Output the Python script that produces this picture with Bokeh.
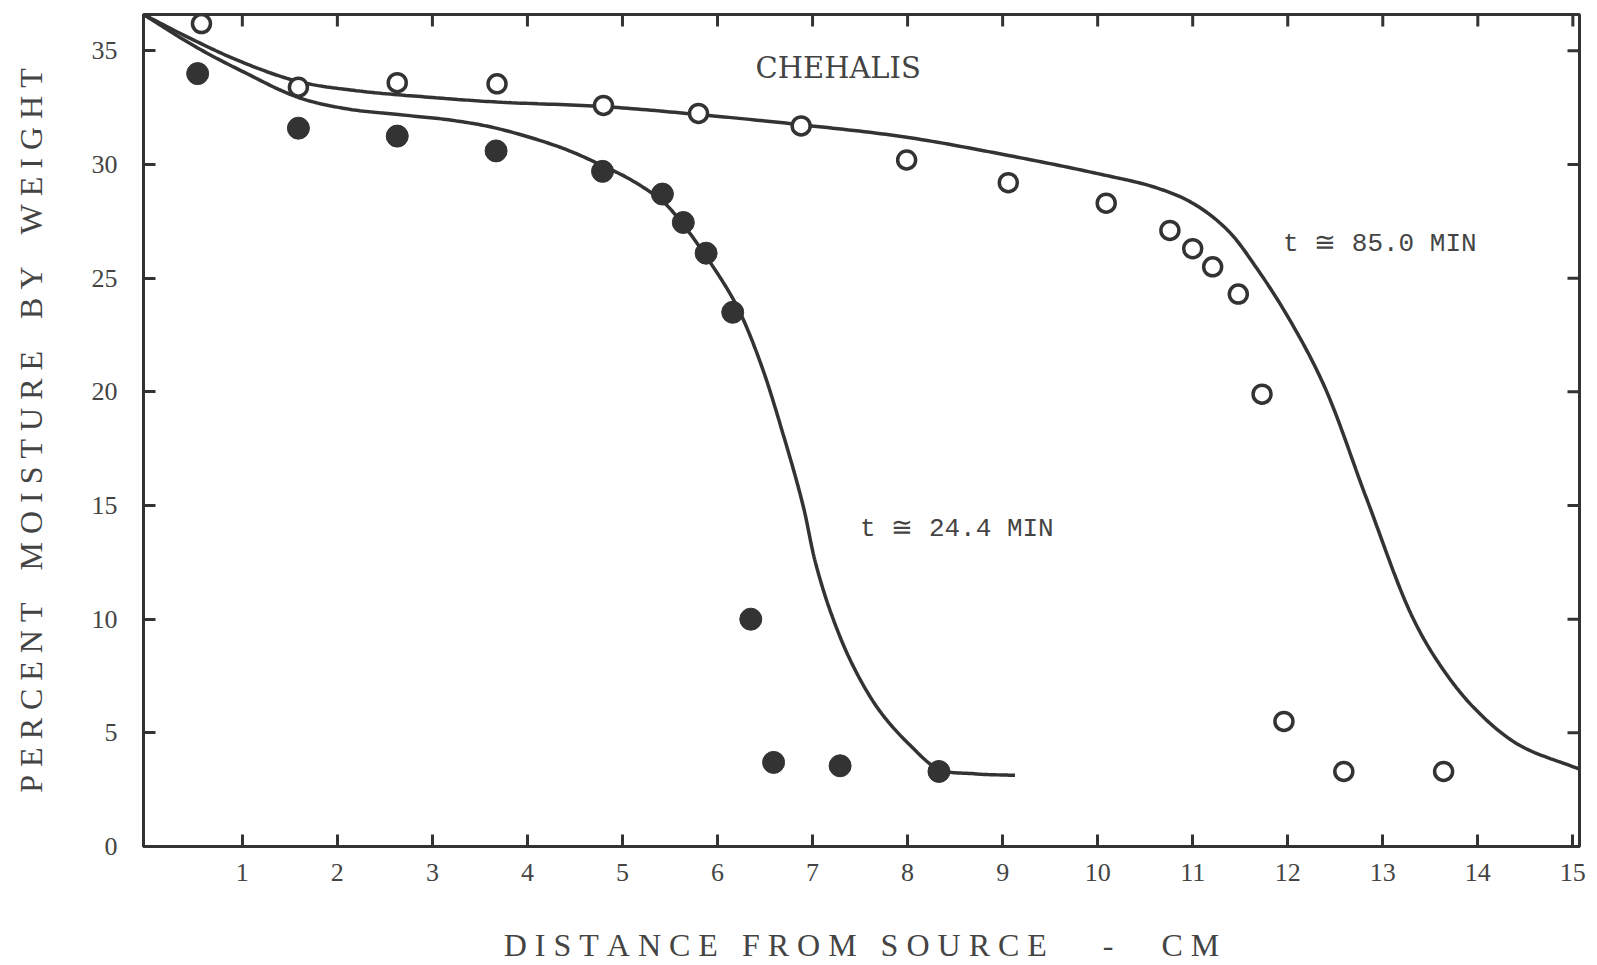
import numpy as np
from bokeh.plotting import figure
from bokeh.models import Range1d, FixedTicker
from bokeh.core.properties import value
from bokeh.embed import file_html
from bokeh.resources import INLINE

# Measured moisture profiles, Chehalis soil
# t = 24.4 min (filled circles)
dist_24 = [0.53, 1.59, 2.63, 3.67, 4.79, 5.42, 5.64, 5.88, 6.16, 6.35, 6.59, 7.29, 8.33]
moist_24 = [34.0, 31.6, 31.25, 30.6, 29.7, 28.7, 27.45, 26.1, 23.5, 10.0, 3.7, 3.55, 3.3]

# t = 85.0 min (open circles)
dist_85 = [0.57, 1.59, 2.63, 3.68, 4.80, 5.80, 6.88, 7.99, 9.06, 10.09,
           10.76, 11.0, 11.21, 11.48, 11.73, 11.96, 12.59, 13.64]
moist_85 = [36.2, 33.4, 33.6, 33.55, 32.6, 32.25, 31.7, 30.2, 29.2, 28.3,
            27.1, 26.3, 25.5, 24.3, 19.9, 5.5, 3.3, 3.3]

# Hand-fitted curves (knots along each drawn curve)
curve24_x = [-0.04, 0.5, 1.0, 1.59, 2.1, 2.64, 3.2, 3.67, 4.35, 4.79, 5.1, 5.43, 5.63,
             5.89, 6.2, 6.45, 6.70, 6.9, 7.03, 7.2, 7.42, 7.7, 8.03, 8.33, 8.7, 9.13]
curve24_y = [36.6, 35.2, 34.1, 32.95, 32.45, 32.2, 31.95, 31.6, 30.75, 29.95, 29.3, 28.35, 27.4,
             25.9, 23.8, 21.3, 18.0, 15.0, 12.5, 10.2, 8.0, 6.0, 4.44, 3.4, 3.2, 3.13]

curve85_x = [-0.04, 0.5, 1.0, 1.59, 2.2, 3.0, 3.68, 4.8, 5.8, 6.88, 7.99, 9.06, 10.0,
             10.6, 11.0, 11.37, 11.68, 12.03, 12.39, 12.83, 13.3, 13.6, 13.96, 14.42, 15.07]
curve85_y = [36.6, 35.45, 34.5, 33.65, 33.25, 32.95, 32.75, 32.55, 32.2, 31.75, 31.2, 30.4, 29.6,
             29.0, 28.3, 27.1, 25.4, 23.1, 20.2, 15.3, 10.2, 8.0, 6.1, 4.5, 3.4]

x_ticks = list(range(1, 16))
y_ticks = [0, 5, 10, 15, 20, 25, 30, 35]
x_lo, x_hi = -0.04, 15.07
y_lo, y_hi = 0.0, 36.6

INK = "#333333"
TEXT = "#444444"
SERIF = "Liberation Serif"
MONO = "Liberation Mono"
NB = "\u00a0"

FRAME_W, FRAME_H = 1436, 834   # plotting area in px
TICK_PX = 12


def spaced(words, gap=3):
    """Letter-spaced caption built with non-breaking spaces."""
    return (NB * gap).join(NB.join(w) for w in words)


def smooth(xs, ys, sx=95.0, sy=22.8, n=20):
    """Centripetal Catmull-Rom path through the curve knots (in screen-like units)."""
    P = np.column_stack([np.asarray(xs) * sx, np.asarray(ys) * sy])
    P = np.vstack([2 * P[0] - P[1], P, 2 * P[-1] - P[-2]])
    out = []
    for i in range(1, len(P) - 2):
        p0, p1, p2, p3 = P[i - 1], P[i], P[i + 1], P[i + 2]
        t0 = 0.0
        t1 = t0 + np.linalg.norm(p1 - p0) ** 0.5
        t2 = t1 + np.linalg.norm(p2 - p1) ** 0.5
        t3 = t2 + np.linalg.norm(p3 - p2) ** 0.5
        for t in np.linspace(t1, t2, n, endpoint=False):
            a1 = (t1 - t) / (t1 - t0) * p0 + (t - t0) / (t1 - t0) * p1
            a2 = (t2 - t) / (t2 - t1) * p1 + (t - t1) / (t2 - t1) * p2
            a3 = (t3 - t) / (t3 - t2) * p2 + (t - t2) / (t3 - t2) * p3
            b1 = (t2 - t) / (t2 - t0) * a1 + (t - t0) / (t2 - t0) * a2
            b2 = (t3 - t) / (t3 - t1) * a2 + (t - t1) / (t3 - t1) * a3
            out.append((t2 - t) / (t2 - t1) * b1 + (t - t1) / (t2 - t1) * b2)
    out.append(P[-2])
    out = np.array(out)
    return out[:, 0] / sx, out[:, 1] / sy


p = figure(width=1597, height=965,
           x_range=Range1d(x_lo, x_hi), y_range=Range1d(y_lo, y_hi),
           output_backend="svg", toolbar_location=None,
           min_border_left=143, min_border_right=18,
           min_border_top=14, min_border_bottom=117)
p.outline_line_color = INK
p.outline_line_width = 3
p.background_fill_color = "white"
p.border_fill_color = "white"
p.xgrid.visible = False
p.ygrid.visible = False


def style_axis(ax, ticks):
    ax.ticker = FixedTicker(ticks=ticks)
    ax.axis_line_color = INK
    ax.axis_line_width = 3
    ax.major_tick_line_color = INK
    ax.major_tick_line_width = 3
    ax.major_tick_in = TICK_PX
    ax.major_tick_out = 0
    ax.minor_tick_line_color = None
    ax.major_label_text_font = SERIF
    ax.major_label_text_font_size = "26px"
    ax.major_label_text_color = TEXT
    ax.axis_label_text_font = SERIF
    ax.axis_label_text_font_style = "normal"
    ax.axis_label_text_color = TEXT


xa = p.xaxis[0]
style_axis(xa, x_ticks)
xa.major_label_standoff = 17
xa.axis_label = (spaced(["DISTANCE", "FROM", "SOURCE"]) + NB * 7 + "-" + NB * 6
                 + spaced(["CM"]))
xa.axis_label_text_font_size = "32px"
xa.axis_label_text_line_height = 0.6
xa.axis_label_standoff = 43

ya = p.yaxis[0]
style_axis(ya, y_ticks)
ya.major_label_standoff = 26
ya.axis_label = spaced(["PERCENT", "MOISTURE", "BY", "WEIGHT"], gap=4)
ya.axis_label_text_font_size = "32px"
ya.axis_label_standoff = 40

# inward ticks along the top and right edges of the frame
dy_tick = TICK_PX * (y_hi - y_lo) / FRAME_H
dx_tick = TICK_PX * (x_hi - x_lo) / FRAME_W
p.segment(x0=x_ticks, y0=[y_hi] * len(x_ticks), x1=x_ticks, y1=[y_hi - dy_tick] * len(x_ticks),
          line_color=INK, line_width=3)
p.segment(x0=[x_hi] * len(y_ticks), y0=y_ticks, x1=[x_hi - dx_tick] * len(y_ticks), y1=y_ticks,
          line_color=INK, line_width=3)

# fitted curves
cx, cy = smooth(curve85_x, curve85_y)
p.line(cx, cy, line_color=INK, line_width=3.5)
cx, cy = smooth(curve24_x, curve24_y)
p.line(cx, cy, line_color=INK, line_width=3.5)

# measured points
p.scatter(dist_24, moist_24, marker="circle", size=22,
          fill_color=INK, line_color=INK, line_width=1)
p.scatter(dist_85, moist_85, marker="circle", size=18,
          fill_color="white", line_color=INK, line_width=3.5)

# captions
p.text(x=[7.27], y=[34.25], text=["CHEHALIS"], text_align="center",
       text_baseline="middle", text_font=value("DejaVu Serif"), text_font_size="29px",
       text_color=TEXT)
p.text(x=[11.95, 7.50], y=[26.5, 13.95], text=["t ≅ 85.0 MIN", "t ≅ 24.4 MIN"],
       text_align="left", text_baseline="middle", text_font=value(MONO),
       text_font_size="26px", text_color=TEXT)

open("out.html", "w").write(file_html(p, INLINE))
